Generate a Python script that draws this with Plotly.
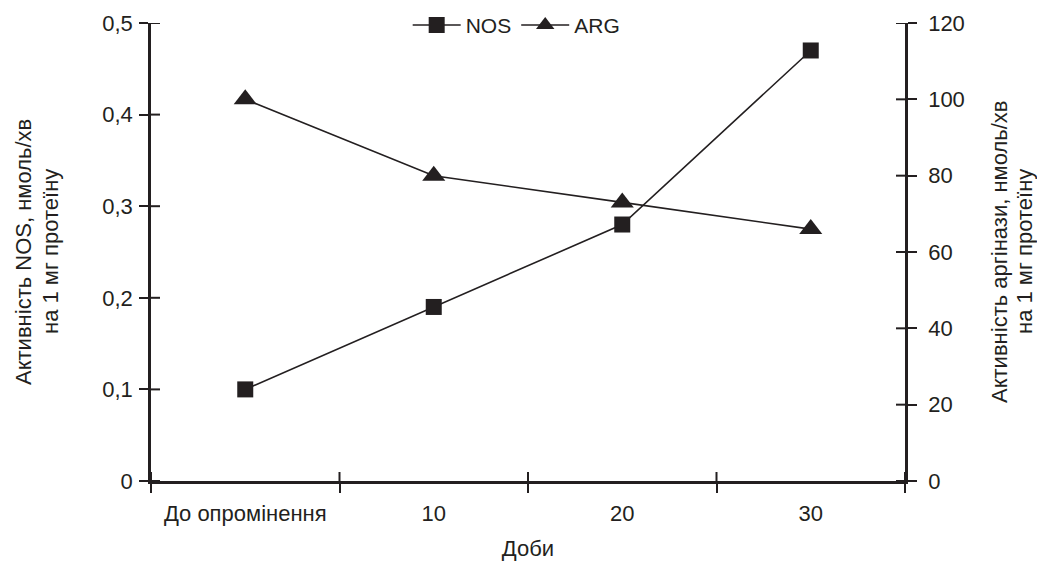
import plotly.graph_objects as go

categories = ["До опромінення", "10", "20", "30"]
nos_values = [0.10, 0.19, 0.28, 0.47]
arg_values = [100, 80, 73, 66]

left_ticks = [0, 0.1, 0.2, 0.3, 0.4, 0.5]
right_ticks = [0, 20, 40, 60, 80, 100, 120]

x_title = "Доби"
y_left_title = ["Активність NOS, нмоль/хв", "на 1 мг протеїну"]
y_right_title = ["Активність аргінази, нмоль/хв", "на 1 мг протеїну"]

INK = "#231f20"
FONT = "Liberation Sans, Arial, sans-serif"
FS = 22
TICKLEN = 9

W, H = 1037, 561
ML, MR, MT, MB = 151, 132, 23, 80
PLOT_W = W - ML - MR
PLOT_H = H - MT - MB

fig = go.Figure()
fig.add_trace(go.Scatter(
    x=categories, y=nos_values, name="NOS", mode="lines+markers",
    line=dict(color=INK, width=1.6),
    marker=dict(symbol="square", size=16, color=INK),
    xaxis="x", yaxis="y",
))
fig.add_trace(go.Scatter(
    x=categories, y=arg_values, name="ARG", mode="lines+markers",
    line=dict(color=INK, width=1.6),
    marker=dict(symbol="triangle-up", size=20, color=INK),
    xaxis="x", yaxis="y2",
))

tick_style = dict(ticklen=TICKLEN, tickwidth=2, tickcolor=INK)

fig.update_layout(
    width=W, height=H,
    margin=dict(l=ML, r=MR, t=MT, b=MB, autoexpand=False),
    paper_bgcolor="white", plot_bgcolor="white",
    separators=", ",
    font=dict(family=FONT, size=FS, color=INK),
    showlegend=True,
    legend=dict(orientation="h", x=0.485, xanchor="center", y=0.995, yanchor="middle",
                font=dict(size=21), bgcolor="rgba(0,0,0,0)", itemwidth=48,
                tracegroupgap=0),
    xaxis=dict(type="category", categoryorder="array", categoryarray=categories,
               range=[-0.5, len(categories) - 0.5], tickson="boundaries",
               showgrid=False, zeroline=False,
               showline=True, linecolor=INK, linewidth=2.5,
               ticks="outside", **tick_style, ticklabelstandoff=11,
               tickfont=dict(size=FS), title=dict(text=x_title, font=dict(size=FS), standoff=16)),
    yaxis=dict(range=[left_ticks[0], left_ticks[-1]], tickvals=left_ticks,
               showgrid=False, zeroline=False,
               showline=True, linecolor=INK, linewidth=2.5,
               ticks="outside", **tick_style, ticklabelstandoff=2,
               tickfont=dict(size=FS)),
    yaxis2=dict(range=[right_ticks[0], right_ticks[-1]], tickvals=right_ticks,
                overlaying="y", side="right", anchor="x",
                showgrid=False, zeroline=False,
                showline=True, linecolor=INK, linewidth=2.5,
                ticks="outside", **tick_style, ticklabelstandoff=7,
                tickfont=dict(size=FS)),
)

# inner halves of the crossing tick marks
fx = TICKLEN / PLOT_W
fy = TICKLEN / PLOT_H
for v in left_ticks:
    fig.add_shape(type="line", xref="paper", x0=0, x1=fx,
                  yref="y", y0=v, y1=v, line=dict(color=INK, width=2), layer="above")
for v in right_ticks:
    fig.add_shape(type="line", xref="paper", x0=1 - fx, x1=1,
                  yref="y2", y0=v, y1=v, line=dict(color=INK, width=2), layer="above")
for i in range(len(categories) + 1):
    b = i - 0.5  # category boundary
    fig.add_shape(type="line", xref="x", x0=b, x1=b,
                  yref="paper", y0=0, y1=fy,
                  line=dict(color=INK, width=2), layer="above")

# rotated two-line axis titles (each line placed separately for tight line spacing)
for text, xpos, shift in [(y_left_title[0], 0, -128), (y_left_title[1], 0, -101),
                          (y_right_title[0], 1, 94), (y_right_title[1], 1, 119)]:
    fig.add_annotation(text=text, xref="paper", yref="paper", x=xpos, y=0.5,
                       xanchor="center", yanchor="middle", xshift=shift,
                       textangle=-90, showarrow=False, font=dict(size=FS, color=INK))

fig.write_html("out.html")
